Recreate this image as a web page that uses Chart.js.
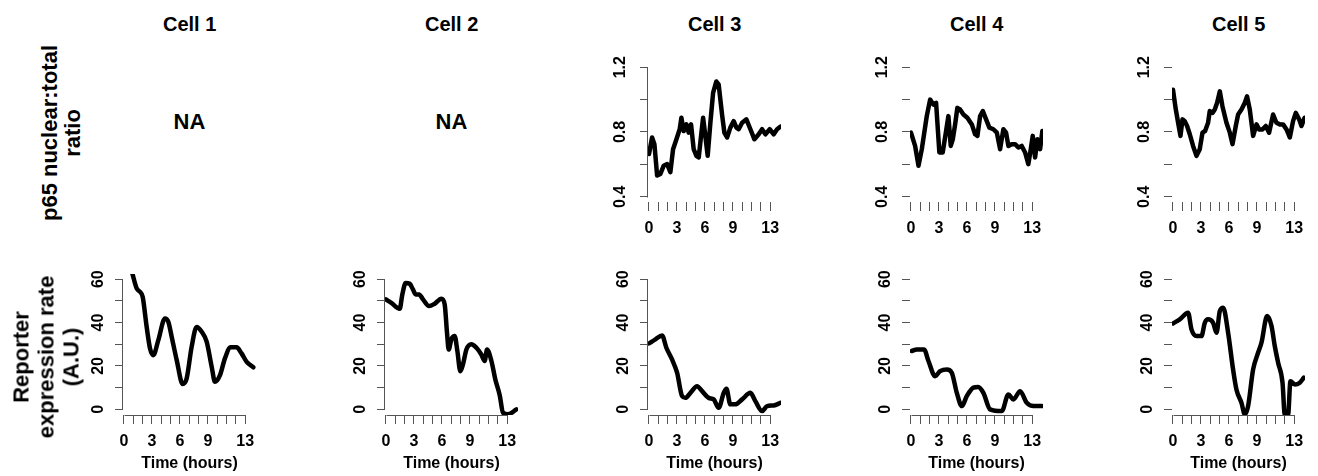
<!DOCTYPE html>
<html><head><meta charset="utf-8">
<script src="https://cdn.jsdelivr.net/npm/chart.js@4.4.1/dist/chart.umd.min.js"></script>
<style>
html,body{margin:0;padding:0;background:#fff;width:1318px;height:476px;overflow:hidden;position:relative;font-family:"Liberation Sans",Arial,sans-serif;}
canvas{position:absolute;}
.t{position:absolute;font-weight:bold;color:#000;white-space:nowrap;font-family:"Liberation Sans",Arial,sans-serif;}
.rot{transform:translate(-50%,-50%) rotate(-90deg);text-align:center;}
</style></head><body>
<script>
// ---------- DATA ----------
const cellNames = ['Cell 1', 'Cell 2', 'Cell 3', 'Cell 4', 'Cell 5'];
const naText = 'NA';
const ratioTitle = ['p65 nuclear:total', 'ratio'];
const rateTitle = ['Reporter', 'expression rate', '(A.U.)'];
const xTitleText = 'Time (hours)';

const xTicks = [0,1,2,3,4,5,6,7,8,9,10,11,12,13];
const xLabelled = [0,3,6,9,13];
const ratioTicks = [0.4,0.6,0.8,1.0,1.2];
const ratioLabelled = [0.4,0.8,1.2];
const rateTicks = [0,10,20,30,40,50,60];
const rateLabelled = [0,20,40,60];

// p65 nuclear:total ratio (row 1) - Cells 1 and 2 are NA
const cell3RatioT = [0,0.33,0.58,0.87,1.22,1.58,1.94,2.29,2.58,2.94,3.29,3.47,3.72,4.01,4.26,4.51,4.79,5.08,5.33,5.58,5.8,6.04,6.29,6.58,6.87,7.22,7.47,7.83,8.08,8.37,8.72,9.08,9.37,9.61,9.98,10.44,10.87,11.3,11.76,12.12,12.48,12.94,13.37,13.73,14.1];
const cell3RatioV = [0.664,0.766,0.725,0.531,0.541,0.592,0.602,0.552,0.694,0.755,0.817,0.888,0.806,0.847,0.796,0.847,0.694,0.653,0.643,0.776,0.888,0.776,0.653,0.857,1.041,1.112,1.092,0.908,0.796,0.766,0.827,0.867,0.827,0.817,0.857,0.878,0.817,0.755,0.786,0.817,0.786,0.817,0.786,0.817,0.833];
const cell4RatioT = [0,0.44,0.8,1.16,1.69,2.05,2.4,2.69,3.04,3.4,3.76,4.01,4.26,4.48,4.73,4.97,5.26,5.62,6.04,6.52,6.87,7.12,7.41,7.7,8.05,8.4,8.83,9.2,9.55,9.9,10.19,10.44,10.8,11.16,11.51,11.87,12.23,12.58,12.84,13.05,13.3,13.55,13.84,14.08];
const cell4RatioV = [0.796,0.714,0.592,0.694,0.898,1.0,0.969,0.98,0.674,0.674,0.806,0.898,0.714,0.755,0.847,0.949,0.939,0.908,0.888,0.847,0.786,0.776,0.898,0.929,0.878,0.827,0.817,0.796,0.694,0.817,0.796,0.714,0.725,0.725,0.704,0.714,0.674,0.602,0.694,0.776,0.643,0.755,0.694,0.806];
const cell5RatioT = [0,0.3,0.55,0.8,1.02,1.26,1.51,1.8,2.15,2.52,2.87,3.16,3.44,3.76,3.94,4.23,4.48,4.73,5.02,5.3,5.73,6.09,6.38,6.73,6.98,7.34,7.7,7.94,8.23,8.59,8.95,9.23,9.59,9.95,10.3,10.73,11.09,11.45,11.8,12.17,12.52,12.87,13.16,13.52,13.77,14.1];
const cell5RatioV = [1.061,0.939,0.857,0.776,0.878,0.867,0.837,0.786,0.714,0.653,0.694,0.796,0.806,0.857,0.929,0.918,0.939,0.98,1.051,0.959,0.857,0.796,0.725,0.837,0.908,0.939,0.98,1.02,0.939,0.776,0.847,0.816,0.816,0.837,0.796,0.908,0.857,0.847,0.847,0.816,0.766,0.867,0.918,0.878,0.837,0.888];

// Reporter expression rate (row 2)
const cell1RateT = [0.89,1.36,1.71,2.0,2.43,2.79,3.14,3.68,4.39,4.75,5.11,5.65,6.29,6.72,7.25,7.79,8.33,8.86,9.4,9.75,10.29,10.82,11.43,12.07,12.6,13.15,13.86];
const cell1RateV = [62.7,55.8,54.2,51.9,38,28.1,25,31.9,41.9,40.4,33.5,22.7,11.7,14.3,28.8,38,35.8,31.2,19.6,12.7,15.8,23.5,28.6,28.6,25.8,21.9,19.4];
const cell2RateT = [0,0.57,1.47,1.75,2.11,2.54,2.89,3.18,3.54,3.97,4.61,5.22,5.94,6.29,6.54,6.72,7.01,7.36,7.65,7.97,8.25,8.62,9.15,9.69,10.22,10.58,10.83,11.3,11.72,12.19,12.54,13.08,13.97];
const cell2RateV = [50.7,49.1,46.4,53,58.3,57.9,55.3,53,53,50.7,47.6,48.7,51,48.4,35.3,27.6,32.3,33.8,26.9,17.6,20.7,27.6,30,28.4,25.3,22.3,27.6,22.3,13.8,6.5,-1.5,-2.3,0];
const cell3RateT = [0,0.69,1.4,1.86,2.47,3.01,3.55,3.9,4.44,5.15,5.69,6.4,6.94,7.47,8.01,8.3,8.72,9.26,9.98,10.87,11.4,12.12,12.66,13.37,14.08];
const cell3RateV = [30.4,32.3,34.1,28.4,23,16.9,6.1,5.3,7.6,10.7,8.4,5.3,4.6,0.7,7.6,9.5,2.3,2.3,4.6,7.6,3.8,-0.8,1.5,1.8,3];
const cell4RateT = [0.08,0.62,1.4,1.87,2.59,3.12,3.84,4.37,4.91,5.45,5.98,6.69,7.2,7.76,8.48,9.73,10.44,10.98,11.7,12.41,13.13,14.03];
const cell4RateV = [26.9,27.6,27.6,22.3,15.3,17.6,18.4,16.9,7.6,1.5,6.1,10,10.3,7.6,0,-0.8,6.9,4.6,8.4,3,1.5,1.5];
const cell5RateT = [0,0.73,1.62,1.98,2.52,3.05,3.41,3.76,4.3,4.66,5.02,5.38,5.91,6.44,6.8,7.34,7.7,8.05,8.59,9.12,9.48,10.09,10.56,10.91,11.27,11.74,11.98,12.34,12.59,13.05,13.59,14.02];
const cell5RateV = [39.6,41.5,44.5,36.9,33.8,33.8,39.9,41.5,39.9,35.3,45.3,46.8,35.3,18.4,9.2,3,-2.3,1.5,18.4,26.1,30.7,43,38.4,29.2,21.5,12.3,-2.3,-2.3,13,11.5,12.3,14.6];

// ---------- LAYOUT ----------
const FONT = '"Liberation Sans", Arial, sans-serif';
const plotLeft = [123, 385, 648, 910, 1172];
const XMIN = -0.107, XMAX = 14.15;
const PLOT_W = 133;
const YW = 50, PT = 20, PR = 22;
const row1 = {top: 62, h: 140, xh: 40, yMin: 0.368, yMax: 1.232};
const row2 = {top: 274, h: 141, xh: 58, yMin: -2.6, yMax: 62.4};

const near = (a, arr) => arr.some(b => Math.abs(a - b) < 1e-6);

const rAxis = {
  id: 'rAxis',
  beforeDatasetsDraw(chart, args, opts) {
    const {ctx, chartArea: a, scales: {x, y}} = chart;
    ctx.save();
    ctx.strokeStyle = '#555';
    ctx.lineWidth = 1;
    ctx.beginPath();
    if (opts.x) {
      const yy = Math.round(a.bottom) + 0.5;
      ctx.moveTo(Math.round(x.getPixelForValue(xTicks[0])) + 0.5, yy);
      ctx.lineTo(Math.round(x.getPixelForValue(xTicks[xTicks.length - 1])) + 0.5, yy);
    }
    if (opts.y) {
      const yt = opts.yTicks;
      const xx = Math.round(a.left) - 0.5;
      ctx.moveTo(xx, Math.round(y.getPixelForValue(yt[0])) + 0.5);
      ctx.lineTo(xx, Math.round(y.getPixelForValue(yt[yt.length - 1])) + 0.5);
    }
    ctx.stroke();
    ctx.restore();
  }
};

function panel(col, row, t, v, yTicks, yLabelled, fmt, xTitle, lineX, lineY, smooth) {
  const c = document.createElement('canvas');
  const cw = YW + PLOT_W + PR, ch = PT + row.h + row.xh;
  c.width = cw; c.height = ch;
  c.style.left = (plotLeft[col] - YW) + 'px';
  c.style.top = (row.top - PT) + 'px';
  c.style.width = cw + 'px'; c.style.height = ch + 'px';
  document.body.appendChild(c);
  const tickFont = {family: FONT, size: 16, weight: 'bold'};
  new Chart(c, {
    type: 'line',
    data: {datasets: [{
      data: t.map((tt, i) => ({x: tt, y: v[i]})),
      borderColor: '#000', borderWidth: 4.5, pointRadius: 0,
      borderJoinStyle: 'round', borderCapStyle: 'round',
      cubicInterpolationMode: smooth ? 'monotone' : 'default', tension: 0,
      fill: false
    }]},
    options: {
      responsive: false, animation: false, events: [],
      layout: {padding: {left: 0, top: PT, right: PR, bottom: 0}},
      plugins: {legend: {display: false}, tooltip: {enabled: false},
        rAxis: {x: lineX, y: lineY, yTicks: yTicks}},
      scales: {
        x: {
          type: 'linear', position: 'bottom', min: XMIN, max: XMAX,
          afterBuildTicks: s => { s.ticks = xTicks.map(value => ({value})); },
          afterFit: s => { s.height = row.xh; },
          grid: {display: true, drawOnChartArea: false, drawTicks: true, tickLength: 9, tickColor: '#555', tickWidth: 1, color: '#555'},
          border: {display: false},
          ticks: {autoSkip: false, minRotation: 0, maxRotation: 0, padding: 8, color: '#000', font: tickFont,
            callback: val => near(val, xLabelled) ? String(val) : ''},
          title: {display: !!xTitle, text: xTitle || '', color: '#000', font: {family: FONT, size: 16, weight: 'bold'}, padding: {top: 0, bottom: 0}}
        },
        y: {
          type: 'linear', position: 'left', min: row.yMin, max: row.yMax,
          afterBuildTicks: s => { s.ticks = yTicks.map(value => ({value})); },
          afterFit: s => { s.width = YW; },
          grid: {display: true, drawOnChartArea: false, drawTicks: true, tickLength: 8, tickColor: '#555', tickWidth: 1, color: '#555'},
          border: {display: false},
          ticks: {autoSkip: false, minRotation: 90, maxRotation: 90, crossAlign: 'center', padding: 8, color: '#000', font: tickFont,
            callback: val => near(val, yLabelled) ? fmt(val) : ''}
        }
      }
    },
    plugins: [rAxis]
  });
}

const fmtRatio = val => val.toFixed(1);
const fmtRate = val => String(Math.round(val));

// Row 1: p65 ratio
panel(2, row1, cell3RatioT, cell3RatioV, ratioTicks, ratioLabelled, fmtRatio, null, false, true, false);
panel(3, row1, cell4RatioT, cell4RatioV, ratioTicks, ratioLabelled, fmtRatio, null, false, false, false);
panel(4, row1, cell5RatioT, cell5RatioV, ratioTicks, ratioLabelled, fmtRatio, null, false, false, false);
// Row 2: reporter expression rate
panel(0, row2, cell1RateT, cell1RateV, rateTicks, rateLabelled, fmtRate, xTitleText, true, true, true);
panel(1, row2, cell2RateT, cell2RateV, rateTicks, rateLabelled, fmtRate, xTitleText, true, true, true);
panel(2, row2, cell3RateT, cell3RateV, rateTicks, rateLabelled, fmtRate, xTitleText, true, true, true);
panel(3, row2, cell4RateT, cell4RateV, rateTicks, rateLabelled, fmtRate, xTitleText, true, false, true);
panel(4, row2, cell5RateT, cell5RateV, rateTicks, rateLabelled, fmtRate, xTitleText, true, false, true);

// ---------- TEXT ----------
function addText(txt, cx, top, size, cls) {
  const d = document.createElement('div');
  d.className = 't' + (cls ? ' ' + cls : '');
  d.style.fontSize = size + 'px';
  d.style.lineHeight = size + 'px';
  d.textContent = txt;
  document.body.appendChild(d);
  d.style.left = (cx - d.offsetWidth / 2) + 'px';
  d.style.top = top + 'px';
  return d;
}
cellNames.forEach((n, i) => addText(n, plotLeft[i] + PLOT_W / 2, 13.5, 20));
[0, 1].forEach(i => addText(naText, plotLeft[i] + PLOT_W / 2, 111, 22));

function addRotTitle(lines, cx, cy, size, lh) {
  const d = document.createElement('div');
  d.className = 't rot';
  d.style.fontSize = size + 'px';
  d.style.lineHeight = lh + 'px';
  d.style.left = cx + 'px';
  d.style.top = cy + 'px';
  lines.forEach((l, i) => {
    if (i) d.appendChild(document.createElement('br'));
    d.appendChild(document.createTextNode(l));
  });
  document.body.appendChild(d);
}
addRotTitle(ratioTitle, 61, 132.5, 22, 23);
addRotTitle(rateTitle, 46, 357, 22, 25);
</script>
</body></html>
